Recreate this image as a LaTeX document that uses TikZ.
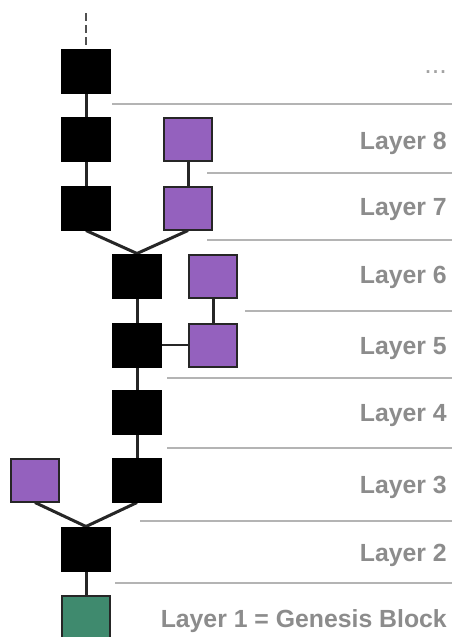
\documentclass[tikz,border=0pt]{standalone}
\usepackage{fontspec}
\setmainfont{Liberation Sans}
\definecolor{blkpurple}{HTML}{9461BE}
\definecolor{blkgreen}{HTML}{3F8A6E}
\definecolor{lblgray}{HTML}{8C8C8C}
\definecolor{sepgray}{HTML}{B4B4B4}
\definecolor{edgegray}{HTML}{262626}
\tikzset{
  blk/.style={rectangle, draw=edgegray, line width=2pt, minimum width=48pt, minimum height=43pt, inner sep=0pt},
  mainblk/.style={blk, fill=black, draw=black},
  sideblk/.style={blk, fill=blkpurple},
  genblk/.style={blk, fill=blkgreen},
  conn/.style={draw=edgegray, line width=3pt},
  thinconn/.style={draw=edgegray, line width=2pt},
  sep/.style={draw=sepgray, line width=1.4pt},
  lbl/.style={anchor=east, text=lblgray, font=\fontsize{24.8}{27}\selectfont\bfseries, inner sep=0pt}
}
\begin{document}
\begin{tikzpicture}[x=1pt, y=-1pt]
\useasboundingbox[fill=white] (0,0) rectangle (452,637);
% separators
\draw[sep] (112,104) -- (452,104);
\draw[sep] (207,173) -- (452,173);
\draw[sep] (207,240) -- (452,240);
\draw[sep] (245,311) -- (452,311);
\draw[sep] (167,378) -- (452,378);
\draw[sep] (167,448) -- (452,448);
\draw[sep] (140,521) -- (452,521);
\draw[sep] (115,583) -- (452,583);
% blocks
\node[mainblk] (b9) at (86,71) {};
\node[mainblk] (b8) at (86,139) {};
\node[mainblk] (b7) at (86,208) {};
\node[sideblk] (p8) at (188,139) {};
\node[sideblk] (p7) at (188,208) {};
\node[mainblk] (b6) at (137,276) {};
\node[sideblk] (p6) at (213,276) {};
\node[mainblk] (b5) at (137,345) {};
\node[sideblk] (p5) at (213,345) {};
\node[mainblk] (b4) at (137,412) {};
\node[mainblk] (b3) at (137,480) {};
\node[sideblk] (p3) at (35,480) {};
\node[mainblk] (b2) at (86,549) {};
\node[genblk] (g1) at (86,617) {};
\coordinate (top) at (86,13);
% connectors
\draw[edgegray!80, line width=1.6pt, dash pattern=on 8pt off 4pt] (top) -- (b9.north);
\draw[conn] (b9) -- (b8);
\draw[conn] (b8) -- (b7);
\draw[conn] (p8) -- (p7);
\draw[conn] (b7.south) -- (b6.north);
\draw[conn] (p7.south) -- (b6.north);
\draw[conn] (b6) -- (b5);
\draw[conn] (p6) -- (p5);
\draw[thinconn] (b5) -- (p5);
\draw[conn] (b5) -- (b4);
\draw[conn] (b4) -- (b3);
\draw[conn] (p3.south) -- (b2.north);
\draw[conn] (b3.south) -- (b2.north);
\draw[conn] (b2) -- (g1);
% redraw blocks on top of connectors
\foreach \n in {b9,b8,b7,b6,b5,b4,b3,b2}{\node[mainblk] at (\n) {};}
\foreach \n in {p8,p7,p6,p5,p3}{\node[sideblk] at (\n) {};}
\node[genblk] at (g1) {};
% labels
\node[lbl, text=lblgray!80, font=\fontsize{27}{29}\selectfont] (ldots) at (447,72) {...};
\node[lbl] (l8) at (447,143) {Layer 8};
\node[lbl] (l7) at (447,210) {Layer 7};
\node[lbl] (l6) at (447,277) {Layer 6};
\node[lbl] (l5) at (447,349) {Layer 5};
\node[lbl] (l4) at (447,416) {Layer 4};
\node[lbl] (l3) at (447,487) {Layer 3};
\node[lbl] (l2) at (447,555) {Layer 2};
\node[lbl] (l1) at (447,621) {Layer 1 = Genesis Block};
\end{tikzpicture}
\end{document}
